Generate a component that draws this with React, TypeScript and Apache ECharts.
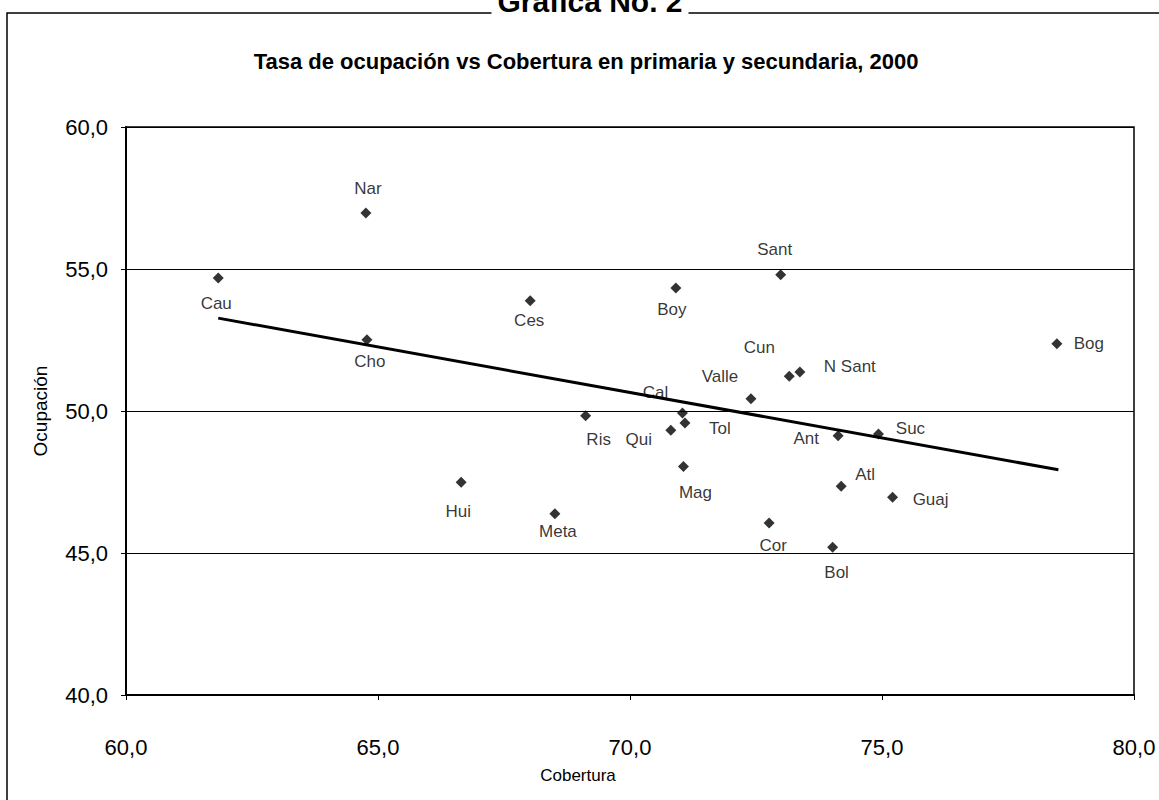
import React, { useEffect, useRef } from "react";
import * as echarts from "echarts";

// Departments (labels), coverage (x) and employment rate (y)
const departamentos = ["Nar", "Cau", "Cho", "Ces", "Boy", "Sant", "Bog", "Cun", "N Sant", "Valle", "Cal", "Tol", "Qui", "Ris", "Mag", "Hui", "Meta", "Cor", "Ant", "Suc", "Atl", "Guaj", "Bol"];
const cobertura = [64.76, 61.83, 64.78, 68.02, 70.91, 72.99, 78.47, 73.16, 73.37, 72.4, 71.04, 71.09, 70.81, 69.12, 71.06, 66.65, 68.51, 72.76, 74.13, 74.93, 74.19, 75.21, 74.02];
const ocupacion = [56.97, 54.68, 52.51, 53.88, 54.33, 54.8, 52.37, 51.22, 51.37, 50.43, 49.93, 49.58, 49.32, 49.83, 48.05, 47.49, 46.38, 46.06, 49.13, 49.19, 47.35, 46.96, 45.2];

// Linear trend line end points
const tendenciaCobertura = [61.83, 78.5];
const tendenciaOcupacion = [53.27, 47.93];

// Axis ranges
const xRange = [60, 80];
const yRange = [40, 60];
const tickStep = 5;

const titulo = "Tasa de ocupación vs Cobertura en primaria y secundaria, 2000";
const subtituloSuperior = "Grafica No. 2";
const nombreX = "Cobertura";
const nombreY = "Ocupación";

// label placement (style only): offset of label centre from point centre, in px
const labelOffsets: Record<string, [number, number]> = {
  Nar: [2, -25],
  Cau: [-2, 25],
  Cho: [3, 22],
  Ces: [-1, 20],
  Boy: [-4, 21],
  Sant: [-6, -25],
  Bog: [32, 0],
  Cun: [-30, -29],
  "N Sant": [50, -6],
  Valle: [-31, -22],
  Cal: [-27, -20],
  Tol: [35, 6],
  Qui: [-32, 9],
  Ris: [13, 24],
  Mag: [12, 26],
  Hui: [-3, 29],
  Meta: [3, 18],
  Cor: [4, 23],
  Ant: [-32, 3],
  Suc: [32, -6],
  Atl: [24, -12],
  Guaj: [38, 2],
  Bol: [4, 25],
};

const FONT = '"Liberation Sans", Arial, sans-serif';
const fmt = (v: number) => v.toFixed(1).replace(".", ",");

export default function App() {
  const ref = useRef<HTMLDivElement>(null);

  useEffect(() => {
    if (!ref.current) return;
    const chart = echarts.init(ref.current, null, { renderer: "svg" });

    const points = departamentos.map((name, i) => ({
      name,
      value: [cobertura[i], ocupacion[i]],
      label: {
        show: true,
        position: "inside",
        offset: labelOffsets[name] || [0, -20],
        formatter: name,
        color: "#000",
        fontSize: 17,
        fontFamily: FONT,
      },
    }));

    const trend = tendenciaCobertura.map((x, i) => [x, tendenciaOcupacion[i]]);

    chart.setOption({
      animation: false,
      backgroundColor: "#fff",
      title: {
        text: titulo,
        left: 581,
        textAlign: "center",
        top: 45,
        textStyle: { fontSize: 22, fontWeight: "bold", color: "#000", fontFamily: FONT },
      },
      graphic: [
        {
          type: "rect",
          shape: { x: 7, y: 13, width: 1400, height: 1000 },
          style: { fill: "none", stroke: "#000", lineWidth: 1.5 },
          silent: true,
        },
        {
          type: "text",
          x: 590,
          y: 16,
          style: {
            text: subtituloSuperior,
            textAlign: "center",
            textVerticalAlign: "bottom",
            font: `bold 30px ${FONT}`,
            fill: "#000",
            backgroundColor: "#fff",
            padding: [0, 6],
          },
          silent: true,
        },
      ],
      grid: {
        left: 126,
        top: 127,
        width: 1008,
        height: 568,
        show: true,
        borderColor: "#000",
        borderWidth: 1.5,
        backgroundColor: "transparent",
      },
      xAxis: {
        type: "value",
        min: xRange[0],
        max: xRange[1],
        interval: tickStep,
        name: nombreX,
        nameLocation: "middle",
        nameGap: 72,
        nameTextStyle: { fontSize: 17, color: "#000", fontFamily: FONT, padding: [0, 104, 0, 0] },
        axisLine: { show: true, lineStyle: { color: "#000", width: 2 } },
        axisTick: { show: true, inside: false, length: 5, lineStyle: { color: "#000" } },
        axisLabel: { formatter: fmt, fontSize: 22, color: "#000", margin: 41, fontFamily: FONT },
        splitLine: { show: false },
      },
      yAxis: {
        type: "value",
        min: yRange[0],
        max: yRange[1],
        interval: tickStep,
        name: nombreY,
        nameLocation: "middle",
        nameGap: 76,
        nameRotate: 90,
        nameTextStyle: { fontSize: 19, color: "#000", fontFamily: FONT },
        axisLine: { show: true, lineStyle: { color: "#000", width: 2 } },
        axisTick: { show: true, inside: false, length: 5, lineStyle: { color: "#000" } },
        axisLabel: { formatter: fmt, fontSize: 22, color: "#000", margin: 18, fontFamily: FONT },
        splitLine: { show: true, lineStyle: { color: "#000", width: 1.2 } },
      },
      series: [
        {
          type: "line",
          data: trend,
          symbol: "none",
          lineStyle: { color: "#000", width: 3 },
          z: 2,
        },
        {
          type: "scatter",
          data: points,
          symbol: "diamond",
          symbolSize: 11,
          itemStyle: { color: "#000" },
          z: 3,
        },
      ],
    });

    return () => chart.dispose();
  }, []);

  return (
    <div
      ref={ref}
      style={{ position: "fixed", left: 0, top: 0, width: 1159, height: 800, background: "#fff" }}
    />
  );
}
